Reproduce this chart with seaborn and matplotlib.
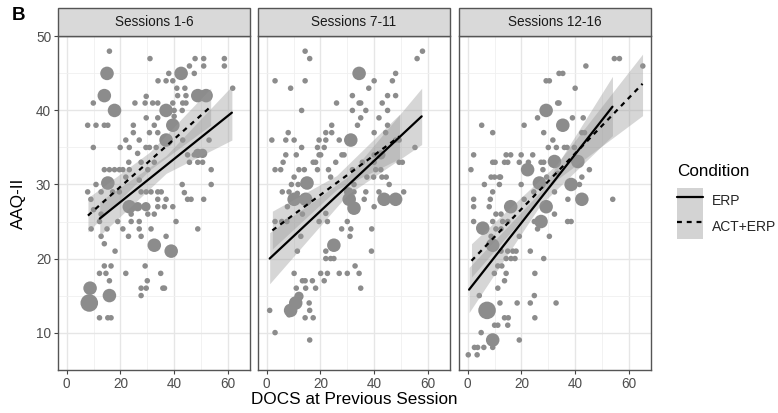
import numpy as np
import pandas as pd
import matplotlib
matplotlib.use("Agg")
import matplotlib.pyplot as plt
from matplotlib.patches import Rectangle, Patch
from matplotlib.lines import Line2D
from matplotlib.legend_handler import HandlerTuple
import seaborn as sns

# ---------------- data ----------------
panels = ["Sessions 1-6", "Sessions 7-11", "Sessions 12-16"]

# Panel 1 points (DOCS, AAQ-II, count)
p1_x = [15.9, 31, 47.8, 51, 58.7, 58.7, 45.7, 51, 15, 42.6, 38, 47.5, 34, 37, 39.5, 41, 44,
        14, 48.8, 51.9, 61.8, 41.3, 44.4, 9.9, 25.4, 29.2, 32, 33.9, 17.8, 37, 39.5, 43.2, 44.4,
        29.6, 40, 43, 29.6, 33.9, 40, 7.8, 10.9, 14, 15.3, 24.8, 32.6, 39.5, 24.8, 30.8, 33.9,
        22, 27, 37, 43.2, 53, 9.9, 19.9, 23.3, 29.5, 30.8, 33.3, 48.8, 50.6, 45, 47.5, 48.8, 45.7, 50.6,
        26.4, 23.1, 27.7, 32.6, 53.8, 14, 15.9, 17.8, 19.6, 20.9, 23.3, 30.2,
        15.3, 10.9, 22, 27, 43, 53.8, 7.8, 12.8, 17.1, 19.6, 27.7, 29.6, 31.4, 33.9, 35.2,
        43.8, 9, 45, 46.3, 51, 23.3, 26.4, 29.5, 33.9, 37, 33.9, 36.4, 39.5, 10, 12.8, 24, 30.2, 32.6,
        12.2, 19, 24, 27, 40.7, 9.1, 15, 20.9, 27, 31.4, 48.8, 12.8, 23, 27.7, 37, 14, 32.6, 38.9,
        18, 14, 16.5, 29.2, 12.2, 14.6, 22, 35, 15.9, 30, 8.7, 15.9, 27.7, 29.6, 36.4, 35.8, 8.4, 27.7,
        12.2, 15.3, 16.5]
p1_y = [48, 47, 47, 47, 47, 46, 46, 46, 45, 45, 45, 45, 44, 44, 44, 43, 43,
        42, 42, 42, 43, 42, 42, 41, 41, 41, 41, 41, 40, 40, 41, 41, 41,
        41.9, 40, 40, 39, 39, 39.2, 38, 38, 38, 38, 38, 38, 38, 37, 37, 37,
        36, 36, 36, 36, 36, 35, 35, 35, 35, 35, 35, 34.2, 34.2, 34, 34, 33, 33, 33,
        34.2, 33, 33, 33, 32, 32, 32, 32, 32, 32, 32, 32,
        30.2, 30, 31, 30.6, 30, 30, 29, 29, 29, 29, 29, 29, 29, 29, 29,
        28.9, 28, 28, 28, 28, 27, 27, 27, 28, 28, 27, 27, 27, 26.6, 26, 26, 26, 26,
        25, 25, 25, 25, 25, 24, 24, 24, 24, 24, 24, 23, 23, 23, 23, 22, 21.8, 21,
        21, 19, 19, 19, 18, 18, 18, 18, 17, 17, 16, 15, 16, 16, 16, 16, 14, 15,
        12, 12, 12]
p1_n = [1, 1, 1, 1, 1, 1, 1, 1, 3, 3, 1, 1, 1, 1, 1, 1, 1,
        3, 3, 3, 1, 1, 1, 1, 1, 1, 1, 1, 3, 3, 1, 1, 1,
        1, 1, 1, 1, 1, 1, 1, 1, 1, 1, 1, 1, 3, 1, 1, 1,
        1, 1, 3, 1, 1, 1, 1, 1, 1, 1, 1, 2, 2, 1, 1, 1, 1, 1,
        1, 1, 1, 1, 1, 1, 1, 1, 1, 1, 1, 1,
        3, 1, 1, 1, 1, 1, 1, 1, 1, 1, 1, 1, 1, 1, 1,
        1, 1, 1, 1, 1, 3, 2, 2, 1, 1, 1, 1, 1, 1, 1, 1, 1, 1,
        1, 1, 1, 1, 1, 1, 1, 1, 1, 1, 1, 1, 1, 1, 1, 1, 3, 3,
        1, 1, 1, 1, 1, 1, 1, 1, 1, 1, 3, 3, 1, 1, 1, 1, 4, 1,
        1, 1, 1]

# Panel 2 points
p2_x = [14.3, 16, 58, 56, 34.4, 3.1, 14.3, 40, 46.8, 48, 8.9, 38, 31.9, 34.4, 35, 45, 48, 26, 43,
        13, 31.9, 36.9, 45, 35, 41.8, 24.2, 33.8, 45, 8, 22, 24.2, 40, 44.3, 1.9, 7.1, 10.2, 19.5, 22,
        27, 31.3, 48, 49.3, 13, 18.9, 21.4, 7.1, 11, 19.5, 20.1, 28, 28.8, 40, 55.2, 6.1, 17.3, 18.2,
        25.7, 35.6, 40, 49.3, 50.5, 3.1, 5.2, 12, 14, 18.9, 23, 31.9, 40.6, 42.5, 10.2, 23.8, 37.3,
        39.8, 42.9, 44.5, 9.2, 11.7, 13.5, 15, 45.6, 32.5, 5.8, 8.3, 11.4, 10.2, 14.5, 30.5, 32.5,
        36.9, 41.8, 51, 30.7, 43.7, 48, 36.3, 7.7, 32.5, 40, 3.1, 5.6, 7.5, 19.5, 22, 13.3, 22.6, 30,
        27.9, 31.3, 12.7, 31, 39.1, 25, 11.4, 22, 39, 22, 23.8, 25, 32.9, 10.2, 20.1, 22.6, 27, 30,
        34.4, 13.3, 14.3, 17, 21.4, 11, 14.5, 18.2, 35, 12, 10.8, 8.9, 15.8, 8.3, 14.3, 17.3, 16, 1.1,
        3.1, 16, 42.5]
p2_y = [48, 47, 48, 47, 45, 44, 44, 44, 44, 45, 43, 43, 42, 41, 41, 42, 42, 41, 41,
        40, 40, 40, 40, 39, 39, 38, 38, 38, 37, 37, 37, 37, 37, 36, 36, 36, 36, 36,
        36, 36, 36, 36, 35, 35, 35, 34, 34, 34, 34, 34, 34, 34, 35, 33, 33, 33,
        33, 33, 33, 33, 33, 32, 32, 32, 32, 32, 32, 32, 32, 32, 31, 31, 31,
        31, 31, 31, 30, 30, 30, 30.2, 30, 30, 29, 29, 28.8, 28, 28, 29, 29,
        29, 29, 29, 28, 28, 28, 28, 27, 26.8, 27, 25, 25, 25, 25, 26.1, 26, 25, 25,
        24, 24, 23, 23, 24, 21.8, 21, 21, 21, 20, 20, 20, 19, 18, 18, 18, 18, 18,
        18, 17, 17, 17, 17, 16, 16, 16, 16, 14.9, 14, 13, 14, 12.4, 12, 12, 13, 13,
        10, 9, 34]
p2_n = [1, 1, 1, 1, 3, 1, 1, 1, 1, 1, 1, 1, 1, 1, 1, 1, 1, 1, 1,
        1, 1, 1, 1, 1, 1, 1, 1, 1, 1, 1, 1, 1, 1, 1, 1, 1, 1, 1,
        1, 3, 1, 1, 1, 1, 1, 1, 1, 1, 1, 1, 1, 1, 1, 1, 1, 1,
        1, 1, 1, 1, 1, 1, 1, 1, 1, 1, 1, 1, 1, 1, 1, 1, 1,
        1, 1, 1, 1, 1, 1, 3, 1, 1, 1, 1, 1, 3, 3, 2, 1,
        1, 1, 1, 3, 3, 3, 1, 1, 3, 1, 1, 1, 1, 1, 1, 1, 1, 1,
        1, 1, 1, 1, 1, 3, 1, 1, 1, 1, 1, 1, 1, 1, 1, 1, 1, 1,
        1, 1, 1, 1, 1, 1, 1, 1, 1, 2, 3, 3, 1, 1, 1, 1, 1, 1,
        1, 1, 2]

# Panel 3 points
p3_x = [54.6, 56.5, 44, 65.2, 34, 35.4, 29.2, 30.4, 40, 33.5, 34, 29.2, 26, 39, 43, 35.4, 5.2, 21,
        9.3, 28.3, 42.5, 43.5, 31.7, 30, 33, 36, 37, 39.7, 2.2, 14.3, 16, 19.9, 24.2, 32.3, 41,
        9.3, 10.2, 13.7, 14.9, 19.2, 22.6, 27.3, 28.3, 1.2, 45.3, 22.3, 8.7, 10, 11.8, 12.2, 28, 33.5,
        26.7, 38.5, 6.2, 11.8, 19.9, 42.5, 41.6, 29.4, 9.3, 24.6, 32.3, 37.3, 42.5, 54, 2.2, 8.4,
        2.2, 8, 16, 21, 29.2, 10.5, 12.4, 32.3, 2.2, 5.6, 13, 14.9, 27.3, 37.2, 38.5, 9.3, 24.8,
        10.5, 12.4, 26, 8.7, 19.2, 30.4, 9.3, 14.9, 16.8, 18, 23.3, 12.4, 14.3, 16.1, 17.6, 28.3,
        11.2, 12.7, 9.9, 14.3, 25, 13.7, 11.2, 4.3, 24.8, 12, 18.4, 23.3, 32.9, 7.2, 13.7, 15.1, 25,
        10, 11.2, 14.9, 5, 9.3, 19.2, 2.5, 3.7, 6, 9.3, 0.2, 3.5]
p3_y = [47, 47, 46, 46, 45, 45, 44, 44, 43, 41, 41, 40, 39, 39, 39, 38, 38, 38,
        37, 37, 37, 37, 36, 35, 35, 35, 35, 35, 34, 34, 34, 34, 34, 33.1, 33.1,
        33, 33, 33, 33, 33, 33, 33, 33, 32, 32, 32, 31, 31, 31, 31, 32, 31.5,
        30.2, 30, 30, 30, 30, 31, 30, 31, 29, 29, 29, 28, 28, 28, 28, 28,
        27, 27, 27, 28, 27, 26, 26, 26, 25, 24.1, 25, 25, 25, 25, 25, 25, 25,
        24, 24, 24, 23, 23, 23, 21.8, 21, 21, 21, 21, 21, 20, 20, 20, 20,
        19, 19, 18, 18, 18, 17, 16, 15, 15, 14, 14, 14, 14, 13, 12, 12, 12,
        11, 11, 11, 10, 9, 9, 8, 8, 8, 8, 7, 7]
p3_n = [1, 1, 1, 1, 1, 1, 1, 1, 1, 1, 1, 3, 1, 1, 1, 3, 1, 1,
        1, 1, 1, 1, 1, 1, 1, 1, 1, 1, 1, 1, 1, 1, 1, 3, 3,
        1, 1, 1, 1, 1, 1, 1, 1, 1, 1, 3, 1, 1, 1, 1, 1, 1,
        3, 3, 1, 1, 1, 1, 1, 1, 1, 1, 1, 1, 3, 1, 1, 1,
        1, 1, 3, 1, 3, 1, 1, 1, 1, 3, 1, 1, 3, 1, 1, 1, 1,
        1, 1, 1, 1, 1, 1, 3, 1, 1, 1, 1, 1, 1, 1, 1, 1,
        1, 1, 1, 1, 1, 1, 1, 1, 1, 1, 1, 1, 1, 4, 1, 1, 1,
        1, 1, 1, 1, 3, 1, 1, 1, 1, 1, 1, 1]

points_x = [p1_x, p2_x, p3_x]
points_y = [p1_y, p2_y, p3_y]
points_n = [p1_n, p2_n, p3_n]

conditions = ["ERP", "ACT+ERP"]
legend_title = "Condition"

# fitted lines (x, y at ends) and CI bands (x, low, high) per panel / condition
fit_erp_x = [[12.3, 61.5], [1.1, 57.7], [0.5, 53.9]]
fit_erp_y = [[25.4, 39.7], [20.0, 39.2], [15.8, 40.5]]
fit_act_x = [[7.9, 53.6], [2.1, 49.5], [1.4, 65.1]]
fit_act_y = [[25.8, 40.5], [23.8, 36.5], [19.7, 43.6]]

band_erp_x = [[12.3, 37, 61.5], [1.1, 30, 57.7], [0.5, 27, 53.9]]
band_erp_lo = [[23.1, 31.5, 36.0], [16.6, 28.6, 35.4], [12.7, 27.2, 36.6]]
band_erp_hi = [[27.7, 33.9, 43.3], [23.5, 31.0, 43.0], [18.8, 29.0, 44.6]]
band_act_x = [[7.9, 31, 53.6], [2.1, 26, 49.5], [1.4, 33, 65.1]]
band_act_lo = [[23.6, 32.0, 38.0], [21.3, 29.3, 33.5], [17.5, 30.6, 39.3]]
band_act_hi = [[28.2, 34.4, 43.0], [26.4, 31.2, 39.5], [22.0, 32.7, 47.6]]

# ---------------- style ----------------
sns.set_theme(style="white")
plt.rcParams["font.family"] = ["Liberation Sans", "DejaVu Sans"]

W, H = 778, 413
fig = plt.figure(figsize=(W / 100, H / 100), dpi=100)

lefts = [58, 258, 459]
pw = 192
top, bottom = 36, 370
strip_h = 28

pt_color = "#8c8c8c"
size_map = {1: 16, 2: 45, 3: 95, 4: 160}

for i in range(3):
    ax = fig.add_axes([lefts[i] / W, 1 - bottom / H, pw / W, (bottom - top) / H])
    ax.set_facecolor("white")
    ax.set_xlim(-3.25, 68.25)
    ax.set_ylim(4.95, 50.05)
    ax.set_xticks([0, 20, 40, 60])
    ax.set_xticks([10, 30, 50], minor=True)
    ax.set_yticks([10, 20, 30, 40, 50])
    ax.set_yticks([15, 25, 35, 45], minor=True)
    ax.grid(True, which="major", color="#e6e6e6", lw=1.0, zorder=0)
    ax.grid(True, which="minor", color="#f0f0f0", lw=0.6, zorder=0)
    ax.set_axisbelow(True)
    for sp in ax.spines.values():
        sp.set_color("#555555")
        sp.set_linewidth(1.0)
    ax.tick_params(axis="both", which="major", length=3, width=0.8, color="#444444",
                   labelsize=9.8, labelcolor="#4d4d4d", pad=2, bottom=True, left=(i == 0))
    ax.tick_params(axis="both", which="minor", length=0)
    if i > 0:
        ax.set_yticklabels([])

    df = pd.DataFrame({"x": points_x[i], "y": points_y[i], "n": points_n[i]})
    sns.scatterplot(data=df, x="x", y="y", size="n", sizes=size_map, color=pt_color,
                    edgecolor="none", linewidth=0, alpha=1.0, legend=False, ax=ax, zorder=2)

    ax.fill_between(band_erp_x[i], band_erp_lo[i], band_erp_hi[i], color="#999999",
                    alpha=0.4, lw=0, zorder=3)
    ax.fill_between(band_act_x[i], band_act_lo[i], band_act_hi[i], color="#999999",
                    alpha=0.4, lw=0, zorder=3)

    lines = pd.DataFrame({
        "x": fit_erp_x[i] + fit_act_x[i],
        "y": fit_erp_y[i] + fit_act_y[i],
        "cond": [conditions[0]] * 2 + [conditions[1]] * 2,
    })
    sns.lineplot(data=lines, x="x", y="y", style="cond", units="cond", estimator=None,
                 dashes={"ERP": "", "ACT+ERP": (2.2, 2.2)}, color="black", lw=1.6,
                 legend=False, ax=ax, zorder=4)
    ax.set_xlabel("")
    ax.set_ylabel("")

    # strip
    h = strip_h / (bottom - top)
    ax.add_patch(Rectangle((0, 1), 1, h, transform=ax.transAxes, clip_on=False,
                           facecolor="#d9d9d9", edgecolor="#555555", lw=1.0, zorder=5))
    ax.text(0.5, 1 + h / 2, panels[i], transform=ax.transAxes, ha="center", va="center",
            fontsize=9.8, color="#1a1a1a", zorder=6)

# axis titles
fig.text(354 / W, 1 - 400 / H, "DOCS at Previous Session", ha="center", va="center",
         fontsize=12.3, color="black")
fig.text(18 / W, 1 - 203 / H, "AAQ-II", ha="center", va="center", rotation=90,
         fontsize=12.3, color="black")
fig.text(12 / W, 1 - 16 / H, "B", ha="left", va="center", fontsize=13.5,
         fontweight="bold", color="black")

# legend
fig.text(677 / W, 1 - 172 / H, legend_title, ha="left", va="center", fontsize=12.3,
         color="black")
h1 = (Patch(facecolor="#d3d3d3", edgecolor="none"), Line2D([], [], color="black", lw=1.6))
h2 = (Patch(facecolor="#d3d3d3", edgecolor="none"),
      Line2D([], [], color="black", lw=1.6, dashes=(2.2, 2.2)))
leg = fig.legend([h1, h2], conditions, handler_map={tuple: HandlerTuple(ndivide=1)},
                 loc="upper left", bbox_to_anchor=(677 / W, 1 - 188 / H), frameon=False,
                 fontsize=10, handlelength=1.85, handleheight=2.45, labelspacing=0.0,
                 handletextpad=0.65, borderpad=0.0, borderaxespad=0.0)

fig.savefig("out.png", dpi=100)
